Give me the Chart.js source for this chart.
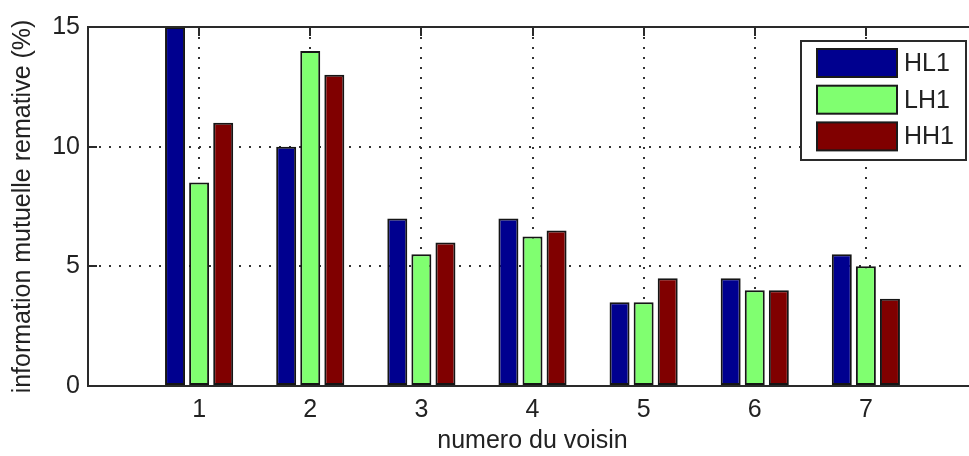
<!DOCTYPE html>
<html>
<head>
<meta charset="utf-8">
<script src="https://cdn.jsdelivr.net/npm/chart.js@4/dist/chart.umd.min.js"></script>
<style>
  html, body { margin: 0; padding: 0; background: #fff; overflow: hidden; }
  #wrap { width: 969px; height: 456px; overflow: hidden; position: relative; }
  canvas { display: block; }
</style>
</head>
<body>
<div id="wrap"><canvas id="c" width="980" height="456"></canvas></div>
<script>
// neighbour index
const categories = [1, 2, 3, 4, 5, 6, 7];
// relative mutual information (%) per sub-band
const hl1 = [15, 10, 7, 7, 3.5, 4.5, 5.5];
const lh1 = [8.5, 14, 5.5, 6.25, 3.5, 4, 5];
const hh1 = [11, 13, 6, 6.5, 4.5, 4, 3.65];
const yTicks = [0, 5, 10, 15];

const seriesNames = ['HL1', 'LH1', 'HH1'];
const seriesColors = ['#00008f', '#80ff70', '#800000'];
const seriesValues = [hl1, lh1, hh1];

const FONT = "'Liberation Sans', Arial, Helvetica, sans-serif";
const INK = '#222222';
const AXIS = '#2a2a2a';

// MATLAB-like axes decorations: top border and inward tick marks
const axesDecor = {
  id: 'axesDecor',
  beforeDatasetsDraw(chart) {
    const { ctx, chartArea: a, scales: { x } } = chart;
    ctx.save();
    ctx.strokeStyle = AXIS;
    ctx.lineWidth = 2;
    ctx.beginPath();
    categories.forEach(c => {
      const px = Math.round(x.getPixelForValue(c));
      ctx.moveTo(px, a.bottom);
      ctx.lineTo(px, a.bottom - 9);
    });
    ctx.stroke();
    ctx.restore();
  },
  afterDraw(chart) {
    const { ctx, chartArea: a, scales: { x, y } } = chart;
    ctx.save();
    ctx.strokeStyle = AXIS;
    ctx.lineWidth = 2;
    ctx.beginPath();
    ctx.moveTo(a.left - 1, a.top);
    ctx.lineTo(a.right + 1, a.top);
    categories.forEach(c => {
      const px = Math.round(x.getPixelForValue(c));
      ctx.moveTo(px, a.top);
      ctx.lineTo(px, a.top + 9);
    });
    yTicks.forEach(v => {
      const py = Math.round(y.getPixelForValue(v));
      ctx.moveTo(a.left, py);
      ctx.lineTo(a.left + 9, py);
    });
    ctx.stroke();
    ctx.restore();
  }
};

// boxed legend inside the axes, upper right
const boxLegend = {
  id: 'boxLegend',
  afterDraw(chart) {
    const { ctx } = chart;
    const box = { x: 801, y: 41, w: 165, h: 119 };
    ctx.save();
    ctx.fillStyle = '#ffffff';
    ctx.fillRect(box.x, box.y, box.w, box.h);
    ctx.strokeStyle = AXIS;
    ctx.lineWidth = 2;
    ctx.strokeRect(box.x, box.y, box.w, box.h);
    ctx.font = '25px ' + FONT;
    ctx.textBaseline = 'middle';
    ctx.textAlign = 'left';
    chart.data.datasets.forEach((ds, i) => {
      const cy = 63 + i * 36.7;
      ctx.fillStyle = ds.backgroundColor;
      ctx.fillRect(817, cy - 14, 80, 28);
      ctx.strokeStyle = '#1a1a1a';
      ctx.lineWidth = 2;
      ctx.strokeRect(817, cy - 14, 80, 28);
      ctx.fillStyle = INK;
      ctx.fillText(ds.label, 904, cy + 1);
    });
    ctx.restore();
  }
};

const datasets = seriesNames.map((name, k) => ({
  label: name,
  data: categories.map((c, i) => ({ x: c, y: seriesValues[k][i] })),
  backgroundColor: seriesColors[k],
  borderColor: '#151515',
  borderWidth: 2,
  borderSkipped: false,
  categoryPercentage: 0.65,
  barPercentage: 0.83
}));

new Chart(document.getElementById('c'), {
  type: 'bar',
  data: { datasets },
  options: {
    responsive: false,
    animation: false,
    layout: { padding: { top: 27, right: 3, left: 0, bottom: 0 } },
    plugins: { legend: { display: false }, tooltip: { enabled: false } },
    scales: {
      x: {
        type: 'linear',
        min: 0,
        max: 8,
        offset: false,
        afterBuildTicks: s => { s.ticks = categories.map(v => ({ value: v })); },
        afterFit: s => { s.height = 70; },
        grid: { color: '#333333', lineWidth: 2, drawTicks: false, offset: false },
        border: { color: AXIS, width: 2, dash: [2, 8] },
        ticks: {
          padding: 9,
          color: INK,
          font: { family: FONT, size: 25 },
          callback: v => String(v)
        },
        title: {
          display: true,
          text: 'numero du voisin',
          color: INK,
          font: { family: FONT, size: 25 },
          padding: { top: 0, bottom: 0 }
        }
      },
      y: {
        min: 0,
        max: 15,
        afterBuildTicks: s => { s.ticks = yTicks.map(v => ({ value: v })); },
        afterFit: s => { s.width = 88; },
        grid: { color: '#333333', lineWidth: 2, drawTicks: false },
        border: { color: AXIS, width: 2, dash: [2, 8] },
        ticks: {
          padding: 8,
          color: INK,
          font: { family: FONT, size: 25 }
        },
        title: {
          display: true,
          text: 'information mutuelle remative (%)',
          color: INK,
          font: { family: FONT, size: 25 },
          padding: { top: 8, bottom: 0 }
        }
      }
    }
  },
  plugins: [axesDecor, boxLegend]
});
</script>
</body>
</html>
